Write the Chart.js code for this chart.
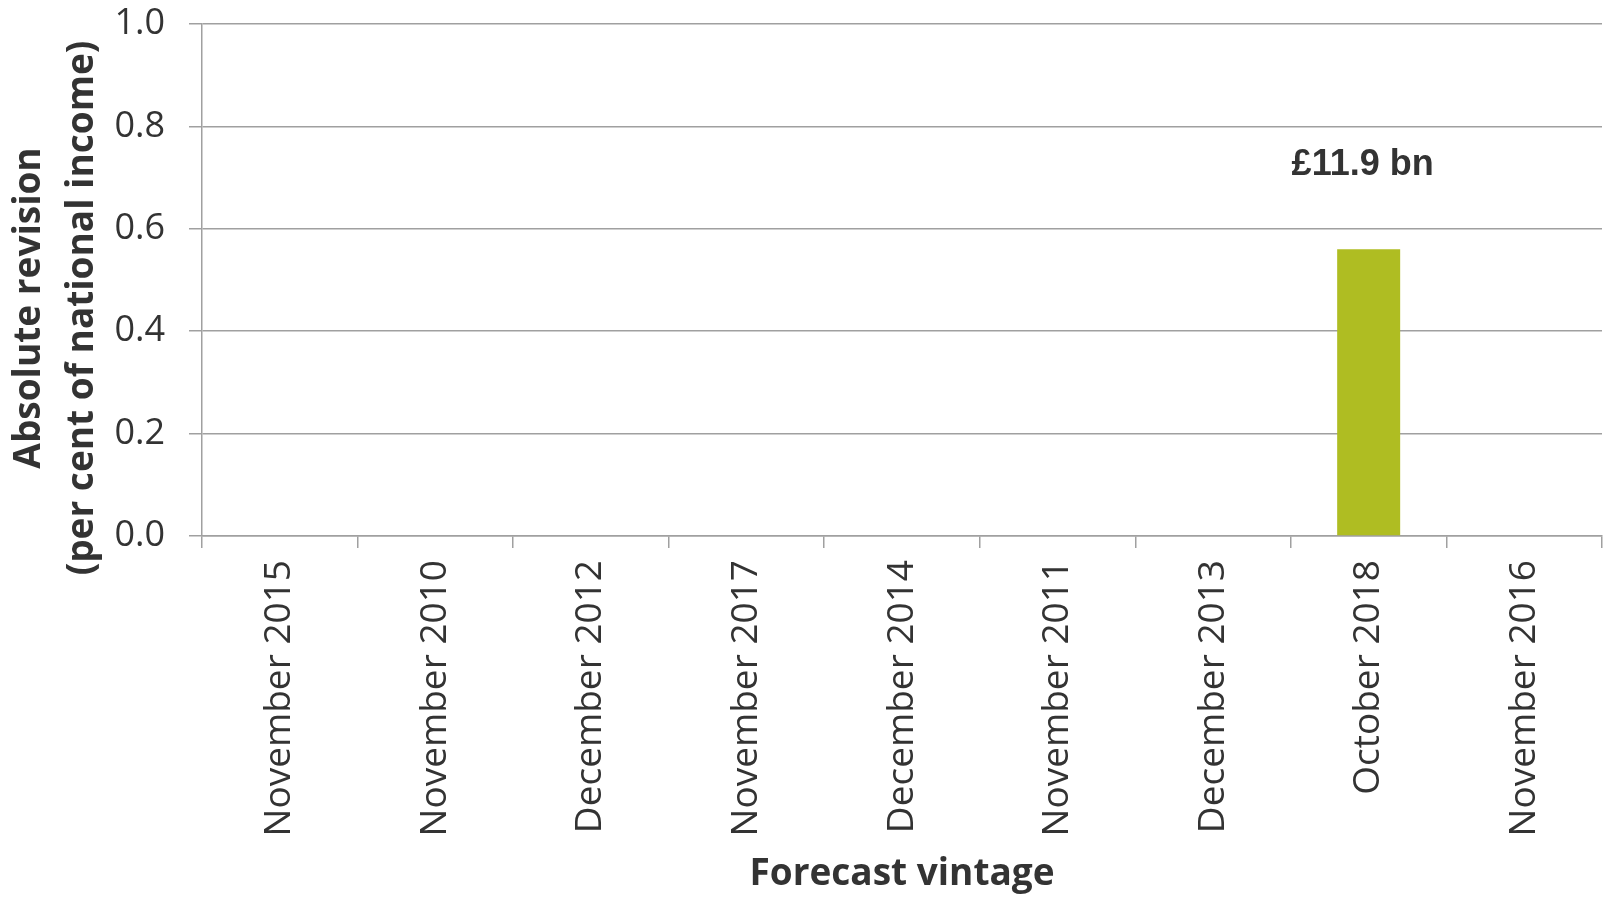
<!DOCTYPE html>
<html>
<head>
<meta charset="utf-8">
<script src="https://cdn.jsdelivr.net/npm/chart.js@4/dist/chart.umd.min.js"></script>
<style>
  html, body { margin: 0; padding: 0; background: #ffffff; }
  #wrap { width: 1603px; height: 897px; }
</style>
</head>
<body>
<div id="wrap"><canvas id="chart" width="1603" height="897"></canvas></div>
<script>
// Forecast vintages along the x axis
const vintages = [
  'November 2015', 'November 2010', 'December 2012', 'November 2017',
  'December 2014', 'November 2011', 'December 2013', 'October 2018',
  'November 2016'
];
// Absolute revision, per cent of national income
const revisions = [0, 0, 0, 0, 0, 0, 0, 0.56, 0];
// Cash value noted above each bar (empty where none is shown)
const cashLabels = ['', '', '', '', '', '', '', '£11.9 bn', ''];
// Y axis ticks
const yTicks = [0.0, 0.2, 0.4, 0.6, 0.8, 1.0];

const yTitleLines = ['Absolute revision', '(per cent of national income)'];
const xTitle = 'Forecast vintage';

const TEXT = '#333333';
const GRID = '#a0a0a0';
const FONT = '"Open Sans", "Noto Sans", sans-serif';

// Axis titles and the cash labels over the bars
const decorations = {
  id: 'decorations',
  afterDraw(chart) {
    const { ctx, chartArea } = chart;
    ctx.save();
    ctx.fillStyle = TEXT;
    ctx.textAlign = 'center';
    ctx.textBaseline = 'middle';

    // y title, two lines, rotated
    ctx.save();
    ctx.font = 'bold 37px ' + FONT;
    ctx.translate(0, 308);
    ctx.rotate(-Math.PI / 2);
    ctx.fillText(yTitleLines[0], 0, 29);
    ctx.fillText(yTitleLines[1], 0, 82);
    ctx.restore();

    // x title
    ctx.font = 'bold 37px ' + FONT;
    ctx.fillText(xTitle, (chartArea.left + chartArea.right) / 2, 874);

    // cash labels
    ctx.font = 'bold 36px "Liberation Sans", Arial, sans-serif';
    const meta = chart.getDatasetMeta(0);
    meta.data.forEach((bar, i) => {
      if (!cashLabels[i]) return;
      ctx.fillText(cashLabels[i], bar.x - 6, bar.y - 84);
    });
    ctx.restore();
  }
};

new Chart(document.getElementById('chart'), {
  type: 'bar',
  data: {
    labels: vintages,
    datasets: [{
      data: revisions,
      backgroundColor: '#afbd22',
      borderWidth: 0,
      barPercentage: 0.81,
      categoryPercentage: 0.5
    }]
  },
  options: {
    responsive: false,
    animation: false,
    devicePixelRatio: 1,
    layout: { padding: { top: 24, right: 1, left: 0, bottom: 0 } },
    plugins: {
      legend: { display: false },
      tooltip: { enabled: false }
    },
    scales: {
      x: {
        offset: true,
        grid: {
          display: true,
          offset: true,
          drawOnChartArea: false,
          drawTicks: true,
          tickLength: 12,
          color: GRID,
          lineWidth: 1.5
        },
        border: { display: true, color: GRID, width: 1.5 },
        ticks: {
          color: TEXT,
          font: { family: FONT, size: 37 },
          minRotation: 90,
          maxRotation: 90,
          autoSkip: false,
          padding: 12
        },
        afterFit(scale) {
          scale.height = 361;
          scale.paddingLeft = 0;
          scale.paddingRight = 0;
        }
      },
      y: {
        min: 0,
        max: 1,
        afterBuildTicks(scale) {
          scale.ticks = yTicks.map(v => ({ value: v }));
        },
        grid: {
          color: GRID,
          lineWidth: 1.5,
          drawTicks: true,
          tickLength: 13
        },
        border: { display: true, color: GRID, width: 1.5 },
        ticks: {
          color: TEXT,
          font: { family: FONT, size: 36 },
          padding: 24,
          callback: v => Number(v).toFixed(1)
        },
        afterFit(scale) {
          scale.width = 202;
          scale.paddingTop = 0;
          scale.paddingBottom = 0;
        }
      }
    }
  },
  plugins: [decorations]
});
</script>
</body>
</html>
